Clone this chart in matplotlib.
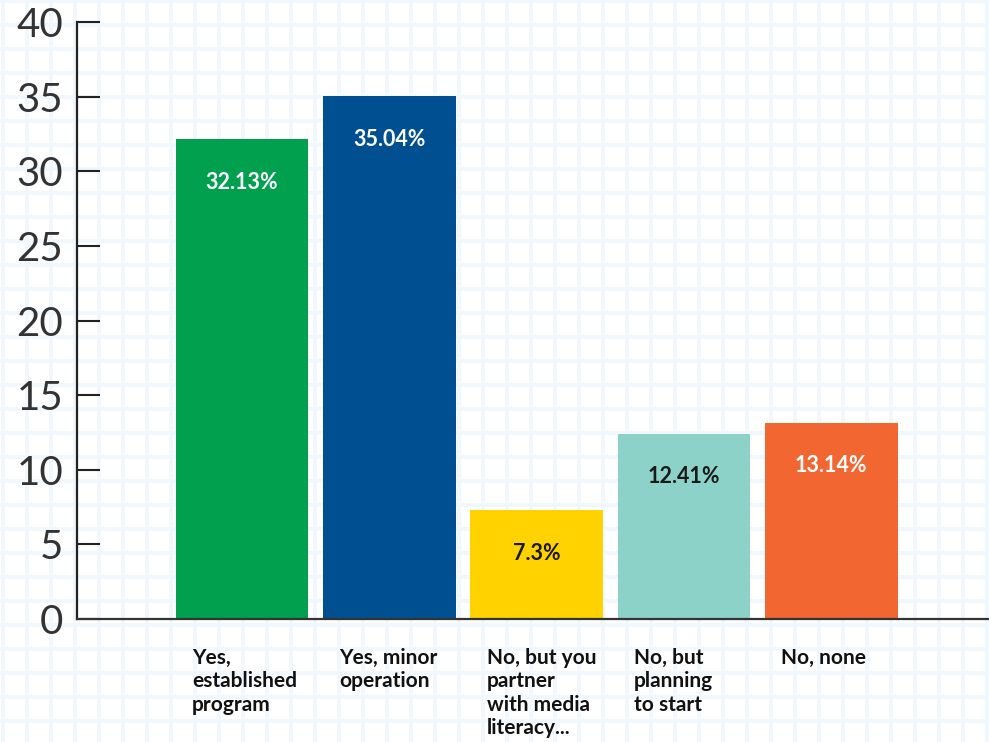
import numpy as np
import matplotlib.pyplot as plt

# data
categories = ["Yes,\nestablished\nprogram", "Yes, minor\noperation",
              "No, but you\npartner\nwith media\nliteracy...",
              "No, but\nplanning\nto start", "No, none"]
values = [32.13, 35.04, 7.3, 12.41, 13.14]
value_labels = ["32.13%", "35.04%", "7.3%", "12.41%", "13.14%"]
colors = ["#00a04f", "#004f91", "#ffd200", "#8dd2c8", "#f26632"]
label_colors = ["white", "white", "#1a1a1a", "#1a1a1a", "white"]
yticks = [0, 5, 10, 15, 20, 25, 30, 35, 40]

W, H = 989, 742
fig = plt.figure(figsize=(W/100, H/100), dpi=100)

# graph-paper background
bg = fig.add_axes([0, 0, 1, 1], zorder=0)
bg.set_xlim(0, W)
bg.set_ylim(H, 0)
bg.axis("off")
for gx in np.arange(3, W, 24):
    bg.axvline(gx, color="#f0f7fd", lw=2.8)
for gy in np.arange(1, H, 24):
    bg.axhline(gy, color="#f0f7fd", lw=2.8)

ax = fig.add_axes([77/W, (H-619)/H, (W-77)/W, 597/H], zorder=1)
ax.patch.set_alpha(0)

x = np.arange(len(values))
ax.bar(x, values, width=0.9, color=colors, zorder=2)
ax.set_xlim(-1.12, 5.07)
ax.set_ylim(0, 40)

for spine in ["top", "right"]:
    ax.spines[spine].set_visible(False)
ax.spines["left"].set_color("#222222")
ax.spines["left"].set_linewidth(1.6)
ax.spines["bottom"].set_color("#333333")
ax.spines["bottom"].set_linewidth(1.6)

ax.set_yticks(yticks)
ax.tick_params(axis="y", direction="in", length=16.5, width=1.5,
               color="#222222", pad=10, labelsize=29, labelcolor="#333333")
for t in ax.get_yticklabels():
    t.set_fontfamily("Lato")
    t.set_fontweight("normal")
ax.set_xticks([])

for i, v in enumerate(values):
    ax.annotate(value_labels[i], (x[i], v), xytext=(0, -31),
                textcoords="offset points", ha="center", va="center",
                color=label_colors[i], fontsize=15.5, fontweight="bold",
                fontfamily="Lato")
    ax.text(x[i] - 0.34, -1.95, categories[i], ha="left", va="top",
            fontsize=15, fontweight="bold", fontfamily="Lato",
            color="#111111", linespacing=1.2, clip_on=False)

fig.savefig("out.png", dpi=100)
